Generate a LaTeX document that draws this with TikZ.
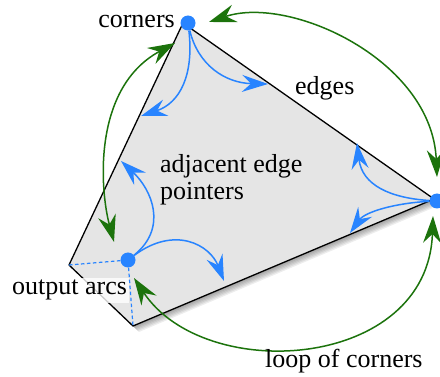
\documentclass[tikz,border=0pt]{standalone}
\usepackage{fontspec}
\setmainfont{Liberation Serif}
\usetikzlibrary{arrows.meta}
\definecolor{dotblue}{RGB}{40,132,255}
\definecolor{loopgreen}{RGB}{28,115,12}
\definecolor{facegray}{RGB}{229,229,229}
\begin{document}
\begin{tikzpicture}[x=1pt,y=1pt,
  lbl/.style={font=\fontsize{26}{27}\selectfont, inner sep=0pt},
  dot/.style={circle, fill=dotblue, inner sep=0pt, minimum size=15pt},
  ptr/.style={draw=dotblue, line width=1.5pt, -{Stealth[length=26pt,width=17pt,inset=9pt]}},
  cornerloop/.style={draw=loopgreen, line width=1.5pt,
     {Stealth[length=27pt,width=18pt,inset=9pt]}-{Stealth[length=27pt,width=18pt,inset=9pt]}},
  outarc/.style={draw=dotblue, line width=1.2pt, dash pattern=on 3.5pt off 2.5pt}]
\useasboundingbox (0,0) rectangle (440,-377);
% polygon corners
\coordinate (T) at (183,-23);
\coordinate (R) at (434,-199);
\coordinate (B) at (133,-326);
\coordinate (L) at (69,-265);
% soft shadow
\foreach \s in {1,2,3,4,5,6}{
  \fill[black, opacity=0.07, transform canvas={shift={(\s pt,-\s pt)}}] (T) -- (R) -- (B) -- (L) -- cycle;
}
\filldraw[fill=facegray, draw=black, line width=1.3pt, line join=round] (T) -- (R) -- (B) -- (L) -- cycle;
% corner dots
\node[dot] (t) at (188,-23) {};
\node[dot] (r) at (437,-201) {};
\node[dot] (i) at (128,-260) {};
% output arcs label
\node[lbl, fill=white, fill opacity=0.8, text opacity=1, inner sep=2pt, anchor=base west] (oa) at (10,-295) {output arcs};
\draw[outarc] (i) -- (L);
\draw[outarc] (i) -- (B);
% adjacent edge pointers
\coordinate (tL) at (141,-116);
\coordinate (tR) at (268,-84);
\coordinate (rU) at (357,-143);
\coordinate (rD) at (350,-233);
\coordinate (iU) at (121,-161);
\coordinate (iR) at (224,-281);
\draw[ptr] (t) .. controls (194,-75) and (180,-103) .. (tL);
\draw[ptr] (t) .. controls (198,-65) and (225,-83) .. (tR);
\draw[ptr] (r) .. controls (390,-198) and (362,-185) .. (rU);
\draw[ptr] (r) .. controls (395,-203) and (365,-212) .. (rD);
\draw[ptr] (i) .. controls (168,-228) and (152,-190) .. (iU);
\draw[ptr] (i) .. controls (175,-225) and (210,-245) .. (iR);
% loop of corners
\coordinate (tA) at ([shift={(21,1)}]t.center);
\coordinate (rA) at ([shift={(0,24)}]r.center);
\coordinate (rB) at ([shift={(-4,-15)}]r.center);
\coordinate (iB) at ([shift={(6,-18)}]i.center);
\coordinate (tC) at ([shift={(-13,-20)}]t.center);
\coordinate (iC) at ([shift={(-14,18)}]i.center);
\draw[cornerloop] (tA) .. controls (290,5) and (432,-60) .. (rA);
\draw[cornerloop] (rB) .. controls (428,-370) and (205,-385) .. (iB);
\draw[cornerloop] (tC) .. controls (92,-88) and (100,-190) .. (iC);
% labels
\node[lbl, anchor=base east] (cn) at (175,-28) {corners};
\node[lbl, anchor=base west] (ed) at (295,-95) {edges};
\node[lbl, anchor=north west, align=left] (ad) at (160,-154) {adjacent edge\\pointers};
\node[lbl, anchor=base west] (lc) at (265,-368) {loop of corners};
\end{tikzpicture}
\end{document}
